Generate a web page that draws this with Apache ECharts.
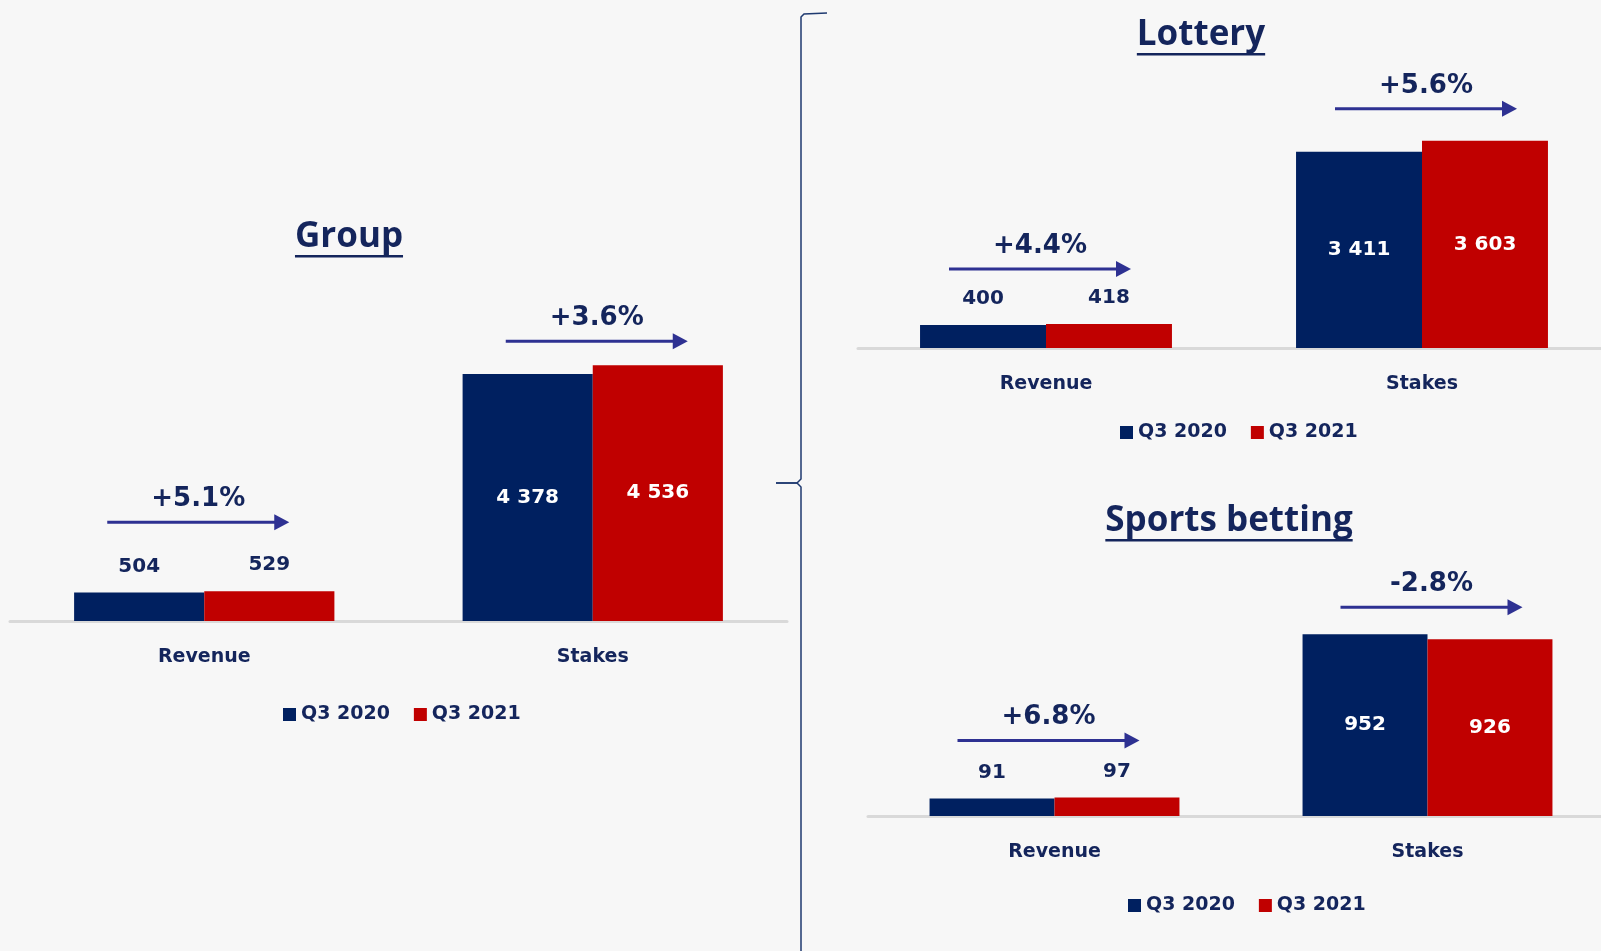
<!DOCTYPE html>
<html>
<head>
<meta charset="utf-8">
<title>Q3 2021 - Revenue and Stakes</title>
<script src="https://cdn.jsdelivr.net/npm/echarts@6/dist/echarts.min.js"></script>
<style>
  html, body { margin: 0; padding: 0; background: #f7f7f7; overflow: hidden; }
  /* a little wider than the window: the segment axes run off the right edge */
  #chart { width: 1640px; height: 951px; }
</style>
</head>
<body>
<div id="chart"></div>
<script>
// data
const categories = ['Revenue', 'Stakes'];
const seriesNames = ['Q3 2020', 'Q3 2021'];
const panelTitles = ['Group', 'Lottery', 'Sports betting'];
const groupQ3_2020 = [504, 4378];
const groupQ3_2021 = [529, 4536];
const lotteryQ3_2020 = [400, 3411];
const lotteryQ3_2021 = [418, 3603];
const sportsQ3_2020 = [91, 952];
const sportsQ3_2021 = [97, 926];
const groupChange = ['+5.1%', '+3.6%'];
const lotteryChange = ['+4.4%', '+5.6%'];
const sportsChange = ['+6.8%', '-2.8%'];

const NAVY = '#002060';
const RED = '#c00000';
const TEXT = '#14255c';
const ARROW = '#2e3192';
const FONT = 'DejaVu Sans';
const TITLE_FONT = 'bold 35px "Open Sans"';

// layout of the three panels (arrowGap: arrow height above the taller bar)
const panels = [
  {title: panelTitles[0], a: groupQ3_2020, b: groupQ3_2021, change: groupChange,
    grid: {left: 10, top: 339, width: 777, height: 282}, max: 5000,
    titleX: 349, titleBase: 248, legend: {left: 283, top: 705}, arrowGap: [69, 24]},
  {title: panelTitles[1], a: lotteryQ3_2020, b: lotteryQ3_2021, change: lotteryChange,
    grid: {left: 858, top: 118, width: 752, height: 230}, max: 4000,
    titleX: 1201, titleBase: 46, legend: {left: 1120, top: 423}, arrowGap: [55, 32]},
  {title: panelTitles[2], a: sportsQ3_2020, b: sportsQ3_2021, change: sportsChange,
    grid: {left: 868, top: 625, width: 746, height: 191}, max: 1000,
    titleX: 1229, titleBase: 532, legend: {left: 1128, top: 896}, arrowGap: [57, 27]}
];

const fmt = v => String(v).replace(/\B(?=(\d{3})+(?!\d))/g, ' ');

// revenue label above the bar, stakes label inside
const barData = values => values.map((v, i) => ({
  value: v,
  label: i === 0
    ? {position: 'top', distance: 16, color: TEXT}
    : {position: 'inside', color: '#ffffff'}
}));

const chart = echarts.init(document.getElementById('chart'));

const option = {
  backgroundColor: '#f7f7f7',
  animation: false,
  grid: panels.map(p => p.grid),
  legend: panels.map(p => ({
    data: seriesNames,
    left: p.legend.left,
    top: p.legend.top,
    padding: 0,
    icon: 'rect',
    itemWidth: 13,
    itemHeight: 13,
    itemGap: 24,
    textStyle: {color: TEXT, fontFamily: FONT, fontWeight: 'bold', fontSize: 19}
  })),
  xAxis: panels.map((p, i) => ({
    type: 'category',
    gridIndex: i,
    data: categories,
    axisLine: {lineStyle: {color: '#d9d9d9', width: 3}},
    axisTick: {show: false},
    axisLabel: {color: TEXT, fontFamily: FONT, fontWeight: 'bold', fontSize: 19, margin: 27}
  })),
  yAxis: panels.map((p, i) => ({
    type: 'value', gridIndex: i, min: 0, max: p.max, show: false
  })),
  series: []
};

panels.forEach((p, i) => {
  [p.a, p.b].forEach((vals, j) => {
    option.series.push({
      name: seriesNames[j],
      type: 'bar',
      xAxisIndex: i,
      yAxisIndex: i,
      barGap: '0%',
      barCategoryGap: '33%',
      itemStyle: {color: j === 0 ? NAVY : RED},
      label: {
        show: true,
        fontFamily: FONT,
        fontWeight: 'bold',
        fontSize: 20,
        formatter: d => fmt(d.value)
      },
      data: barData(vals)
    });
  });
});

chart.setOption(option);

// annotations: titles, change arrows, bracket
const ctx = document.createElement('canvas').getContext('2d');
ctx.font = TITLE_FONT;
const graphic = [];

panels.forEach((p, i) => {
  const w = ctx.measureText(p.title).width;
  graphic.push({
    type: 'text',
    style: {text: p.title, x: p.titleX, y: p.titleBase - 11, font: TITLE_FONT,
      fill: TEXT, align: 'center', verticalAlign: 'middle'}
  });
  graphic.push({
    type: 'rect',
    shape: {x: p.titleX - w / 2, y: p.titleBase + 7, width: w, height: 2.5},
    style: {fill: TEXT}
  });

  categories.forEach((c, k) => {
    const top = Math.max(p.a[k], p.b[k]);
    const pt = chart.convertToPixel({xAxisIndex: i, yAxisIndex: i}, [k, top]);
    const y = pt[1] - p.arrowGap[k];
    const x0 = k === 0 ? pt[0] - 97 : pt[0] - 87;
    const x1 = x0 + 182;
    graphic.push({
      type: 'line',
      shape: {x1: x0, y1: y, x2: x1 - 12, y2: y},
      style: {stroke: ARROW, lineWidth: 3}
    });
    graphic.push({
      type: 'polygon',
      shape: {points: [[x1 - 15, y - 8], [x1, y], [x1 - 15, y + 8]]},
      style: {fill: ARROW}
    });
    graphic.push({
      type: 'text',
      style: {text: p.change[k], x: (x0 + x1) / 2, y: y - 23,
        font: 'bold 26px "' + FONT + '"', fill: TEXT, align: 'center', verticalAlign: 'middle'}
    });
  });
});

// bracket between the group and the segment charts
graphic.push({
  type: 'polyline',
  shape: {points: [[827, 13], [804, 14], [801, 17], [801, 479], [797, 483], [776, 483]]},
  style: {stroke: '#1f3a70', lineWidth: 1.5, fill: null}
});
graphic.push({
  type: 'polyline',
  shape: {points: [[776, 483], [797, 483], [801, 487], [801, 951]]},
  style: {stroke: '#1f3a70', lineWidth: 1.5, fill: null}
});

chart.setOption({graphic: graphic});
</script>
</body>
</html>
